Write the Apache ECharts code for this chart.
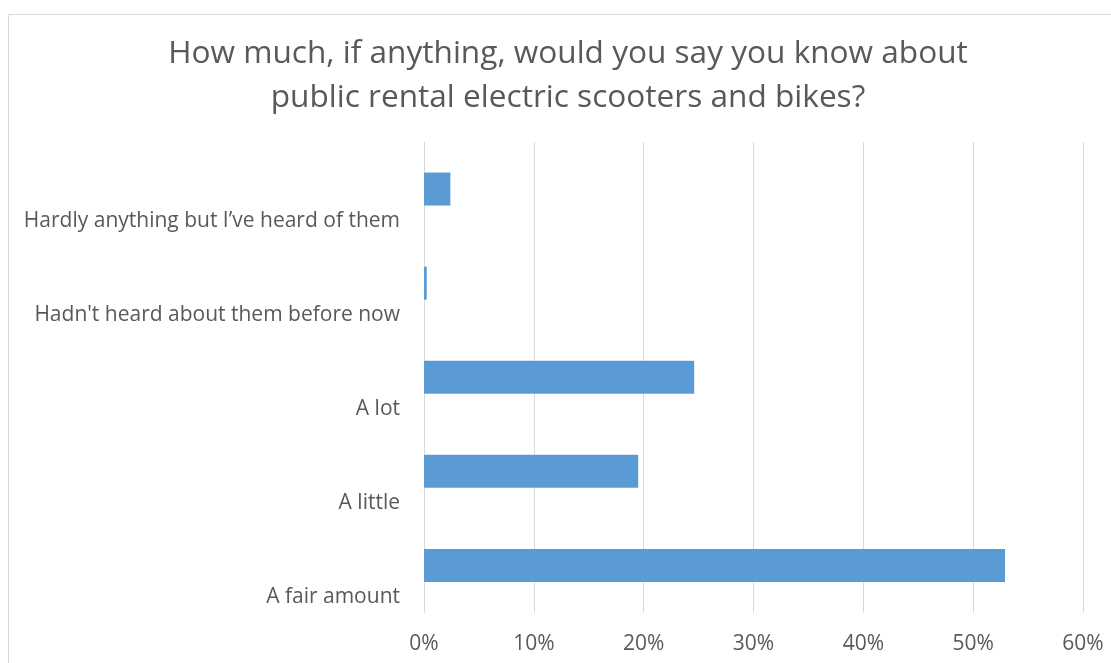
<!DOCTYPE html>
<html>
<head>
<meta charset="utf-8">
<script src="https://cdn.jsdelivr.net/npm/echarts@6/dist/echarts.min.js"></script>
<style>
html,body{margin:0;padding:0;background:#fff;}
#c{width:1111px;height:663px;}
</style>
</head>
<body>
<div id="c"></div>
<script>
const titleLines = ["How much, if anything, would you say you know about", "public rental electric scooters and bikes?"];
const categories = ["A fair amount", "A little", "A lot", "Hadn't heard about them before now", "Hardly anything but I\u2019ve heard of them"];
const values = [52.9, 19.5, 24.6, 0.25, 2.4];
const xTicks = { min: 0, max: 60, interval: 10 };

const FONT = "'Open Sans', 'Noto Sans', sans-serif";
const chart = echarts.init(document.getElementById('c'), null, { renderer: 'canvas' });
chart.setOption({
  animation: false,
  backgroundColor: '#fff',
  graphic: [{
    type: 'rect', shape: { x: 8.5, y: 14.5, width: 1200, height: 700 },
    style: { fill: 'none', stroke: '#d9d9d9', lineWidth: 1 }, silent: true, z: -1
  }],
  title: {
    text: titleLines.join('\n'),
    left: 563, top: 27, textAlign: 'center',
    textStyle: { fontFamily: FONT, fontSize: 31.6, fontWeight: 'normal', color: '#595959', lineHeight: 44 }
  },
  grid: { left: 424, right: 28, top: 142, bottom: 50.5, containLabel: false },
  xAxis: {
    type: 'value', min: xTicks.min, max: xTicks.max, interval: xTicks.interval,
    axisLine: { show: false }, axisTick: { show: false },
    splitLine: { show: true, lineStyle: { color: '#d9d9d9', width: 1 } },
    axisLabel: { formatter: '{value}%', color: '#595959', fontFamily: FONT, fontSize: 21, margin: 21 }
  },
  yAxis: {
    type: 'category', data: categories,
    axisLine: { show: true, lineStyle: { color: '#d9d9d9', width: 1 } },
    axisTick: { show: false },
    axisLabel: {
      interval: 0, hideOverlap: false,
      color: '#595959', fontFamily: FONT, fontSize: 21, margin: 24, lineHeight: 63,
      formatter: function (v) { return '\n' + v; }
    }
  },
  series: [{
    type: 'bar', data: values, barWidth: 33,
    itemStyle: { color: '#5B9BD5' }
  }]
});
</script>
</body>
</html>
